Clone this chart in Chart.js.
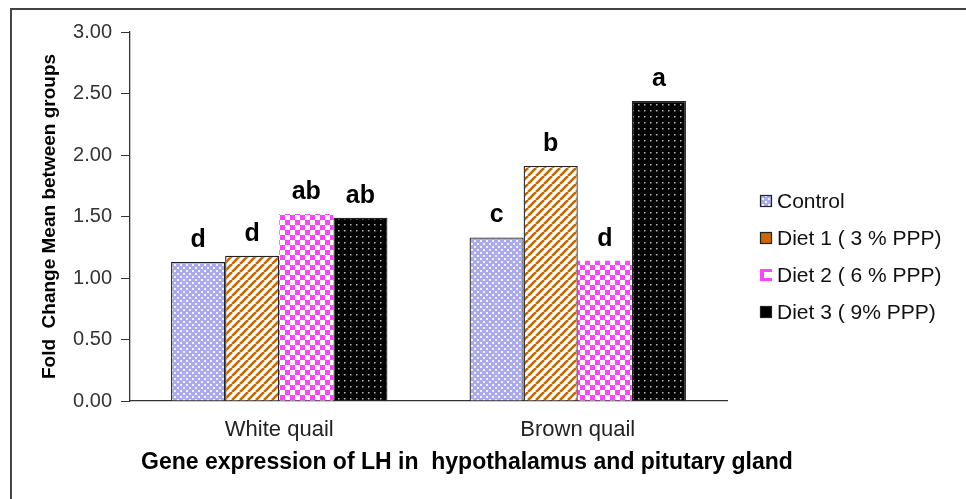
<!DOCTYPE html>
<html>
<head>
<meta charset="utf-8">
<script src="https://cdn.jsdelivr.net/npm/chart.js@4.4.1/dist/chart.umd.min.js"></script>
<style>
  html, body { margin: 0; padding: 0; background: #fff; overflow: hidden; }
  #wrap { position: relative; width: 966px; height: 499px; }
  #frame { position: absolute; left: 10px; top: 8px; width: 1000px; height: 600px;
           border: 2px solid #444; pointer-events: none; }
  canvas { position: absolute; left: 0; top: 0; }
</style>
</head>
<body>
<div id="wrap">
  <canvas id="lhChart" width="966" height="499"></canvas>
  <div id="frame"></div>
</div>
<script>
// Data
const groups = ['White quail', 'Brown quail'];
const seriesNames = ['Control', 'Diet 1 ( 3 % PPP)', 'Diet 2 ( 6 % PPP)', 'Diet 3 ( 9% PPP)'];
const controlValues = [1.13, 1.33];
const diet1Values = [1.18, 1.91];
const diet2Values = [1.52, 1.14];
const diet3Values = [1.49, 2.44];
const controlLetters = ['d', 'c'];
const diet1Letters = ['d', 'b'];
const diet2Letters = ['ab', 'd'];
const diet3Letters = ['ab', 'a'];
const yTicks = [0, 0.5, 1, 1.5, 2, 2.5, 3];
const xTitle = 'Gene expression of LH in  hypothalamus and pitutary gland';

const FONT = '"Liberation Sans", Arial, sans-serif';

// Patterns like the old Excel fills
function makePattern(size, draw) {
    const c = document.createElement('canvas');
    c.width = size;
    c.height = size;
    draw(c.getContext('2d'), size);
    return c.getContext('2d').createPattern(c, 'repeat');
}

const ctx = document.getElementById('lhChart').getContext('2d');

const controlFill = makePattern(6, function(p, s) {
    p.fillStyle = '#aaaaee';
    p.fillRect(0, 0, s, s);
    p.fillStyle = '#f4f4ff';
    p.fillRect(0, 0, 2, 2);
    p.fillRect(3, 3, 2, 2);
});

const diet1Fill = makePattern(8, function(p, s) {
    p.fillStyle = '#ffffff';
    p.fillRect(0, 0, s, s);
    p.strokeStyle = '#cc6600';
    p.lineWidth = 2.6;
    for (let k = -1; k <= 1; k++) {
        p.beginPath();
        p.moveTo(k * s, s);
        p.lineTo(k * s + s, 0);
        p.stroke();
    }
});

const diet2Fill = makePattern(10, function(p, s) {
    p.fillStyle = '#ff44ff';
    p.fillRect(0, 0, s, s);
    p.fillStyle = '#ffffff';
    p.fillRect(0, 0, 5, 5);
    p.fillRect(5, 5, 5, 5);
});

const diet3Fill = makePattern(6, function(p, s) {
    p.fillStyle = '#000000';
    p.fillRect(0, 0, s, s);
    p.fillStyle = '#bbbbbb';
    p.fillRect(2, 2, 1.5, 1.5);
});

const fills = [controlFill, diet1Fill, diet2Fill, diet3Fill];
const swatches = [controlFill, '#cc6600', '#ff44ff', '#000000'];
const borders = ['#222', '#222', 'rgba(0,0,0,0)', '#222'];
const valueSets = [controlValues, diet1Values, diet2Values, diet3Values];
const letterSets = [controlLetters, diet1Letters, diet2Letters, diet3Letters];

// Letters above bars, x title and the legend on the right
const annotatePlugin = {
    id: 'annotate',
    afterDatasetsDraw(chart) {
        const c = chart.ctx;
        c.save();
        c.font = 'bold 25px ' + FONT;
        c.fillStyle = '#000';
        c.textAlign = 'center';
        c.textBaseline = 'alphabetic';
        chart.data.datasets.forEach(function(ds, i) {
            const meta = chart.getDatasetMeta(i);
            meta.data.forEach(function(bar, j) {
                c.fillText(ds.letters[j], bar.x, bar.y - 15);
            });
        });

        // x axis title, centred a bit right of the plot like the original
        c.font = 'bold 23px ' + FONT;
        c.textBaseline = 'middle';
        c.fillText(xTitle, 467, 463);

        // legend
        const lx = 760;
        const ly = 201;
        c.font = '21px ' + FONT;
        c.textAlign = 'left';
        chart.data.datasets.forEach(function(ds, i) {
            const y = ly + i * 37;
            c.fillStyle = ds.swatch;
            c.fillRect(lx, y - 6, 12, 12);
            if (i === 2) {
                c.fillStyle = '#fff';
                c.fillRect(lx + 4, y - 3, 8, 6);
            } else {
                c.strokeStyle = '#222';
                c.lineWidth = 1.2;
                c.strokeRect(lx + 0.5, y - 5.5, 11, 11);
            }
            c.fillStyle = '#111';
            c.fillText(ds.label, lx + 17, y + 1);
        });
        c.restore();
    }
};

const chart = new Chart(ctx, {
    type: 'bar',
    data: {
        labels: groups,
        datasets: seriesNames.map(function(name, i) {
            return {
                label: name,
                data: valueSets[i],
                letters: letterSets[i],
                swatch: swatches[i],
                backgroundColor: fills[i],
                borderColor: borders[i],
                borderWidth: i === 2 ? 0 : 1.3,
                categoryPercentage: 0.725,
                barPercentage: 1.0
            };
        })
    },
    options: {
        responsive: false,
        animation: false,
        layout: {
            padding: { top: 32, right: 239, bottom: 0, left: 0 }
        },
        plugins: {
            legend: { display: false },
            tooltip: { enabled: false }
        },
        scales: {
            x: {
                grid: { display: false },
                border: { display: true, color: '#333', width: 1.3 },
                ticks: {
                    color: '#222',
                    padding: 8,
                    font: { family: FONT, size: 22 }
                },
                afterFit: function(scale) { scale.height = 98; }
            },
            y: {
                min: 0,
                max: 3,
                afterBuildTicks: function(scale) {
                    scale.ticks = yTicks.map(function(v) { return { value: v }; });
                },
                grid: {
                    drawOnChartArea: false,
                    drawTicks: true,
                    tickLength: 9,
                    color: '#333'
                },
                border: { display: true, color: '#333', width: 1.3 },
                ticks: {
                    color: '#333',
                    padding: 9,
                    font: { family: FONT, size: 20 },
                    callback: function(v) { return Number(v).toFixed(2); }
                },
                title: {
                    display: true,
                    text: 'Fold  Change Mean between groups',
                    color: '#000',
                    padding: { top: 38, bottom: 0 },
                    font: { family: FONT, size: 19, weight: 'bold' }
                },
                afterFit: function(scale) { scale.width = 130; }
            }
        }
    },
    plugins: [annotatePlugin]
});
</script>
</body>
</html>
